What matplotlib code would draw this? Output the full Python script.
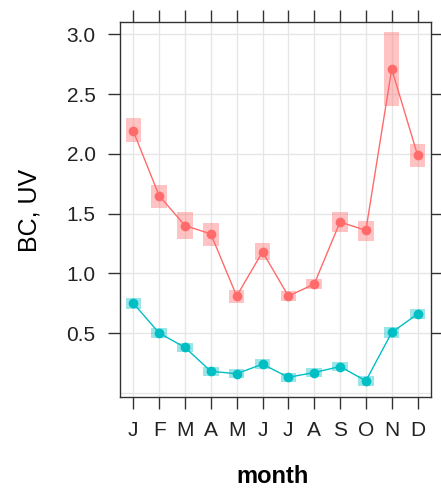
import numpy as np
import matplotlib.pyplot as plt
from matplotlib.patches import Rectangle

plt.rcParams['font.family'] = ['Liberation Sans', 'DejaVu Sans']

# monthly means with confidence bounds
months = ["J", "F", "M", "A", "M", "J", "J", "A", "S", "O", "N", "D"]
bc_mean = [2.19, 1.65, 1.40, 1.33, 0.81, 1.18, 0.81, 0.91, 1.43, 1.36, 2.71, 1.99]
bc_low = [2.10, 1.55, 1.29, 1.23, 0.75, 1.11, 0.77, 0.865, 1.35, 1.27, 2.40, 1.89]
bc_high = [2.30, 1.74, 1.51, 1.42, 0.86, 1.25, 0.85, 0.955, 1.51, 1.44, 3.02, 2.08]
uv_mean = [0.75, 0.50, 0.38, 0.18, 0.16, 0.24, 0.13, 0.17, 0.22, 0.10, 0.505, 0.66]
uv_low = [0.705, 0.455, 0.34, 0.14, 0.12, 0.20, 0.09, 0.13, 0.18, 0.06, 0.46, 0.615]
uv_high = [0.795, 0.545, 0.42, 0.22, 0.20, 0.28, 0.17, 0.21, 0.26, 0.14, 0.55, 0.705]

red = "#FF6B6B"
cyan = "#00BFC4"

W, H = 441, 492
fig = plt.figure(figsize=(W / 100, H / 100), dpi=100)
ax = fig.add_axes([120 / W, 1 - 397 / H, 311 / W, 375 / H])

x = np.arange(1, 13)

# grid
for v in np.arange(0, 3.01, 0.5):
    ax.axhline(v, color="#E6E6E6", lw=1, zorder=0)
for xi in x:
    ax.axvline(xi, color="#E6E6E6", lw=1, zorder=0)

w = 0.6
for lo, hi, c in [(bc_low, bc_high, red), (uv_low, uv_high, cyan)]:
    for xi, l, h in zip(x, lo, hi):
        ax.add_patch(Rectangle((xi - w / 2, l), w, h - l, facecolor=c, alpha=0.4,
                               edgecolor="none", zorder=1))

ax.plot(x, bc_mean, color=red, lw=1, marker="o", ms=7, mew=0, zorder=3)
ax.plot(x, uv_mean, color=cyan, lw=1, marker="o", ms=7, mew=0, zorder=3)

ax.set_xlim(0.485, 12.52)
ax.set_ylim(-0.035, 3.104)
ax.set_xticks(x)
ax.set_xticklabels(months)
ax.set_yticks([0.5, 1.0, 1.5, 2.0, 2.5, 3.0])
ax.set_yticklabels(["0.5", "1.0", "1.5", "2.0", "2.5", "3.0"])

ax.tick_params(direction="out", length=8.6, width=1, color="#333333",
               labelsize=15, labelcolor="#222222", pad=9,
               top=True, right=True, labeltop=False, labelright=False)
for s in ax.spines.values():
    s.set_color("#333333")
    s.set_linewidth(1)

fig.text(36.7 / W, 1 - 210 / H, "BC, UV", fontsize=18, rotation=90,
         ha="center", va="baseline", rotation_mode="anchor")
fig.text(272.5 / W, 1 - 483.3 / H, "month", fontsize=17, fontweight="bold",
         ha="center", va="baseline")

fig.savefig("out.png", dpi=100)
